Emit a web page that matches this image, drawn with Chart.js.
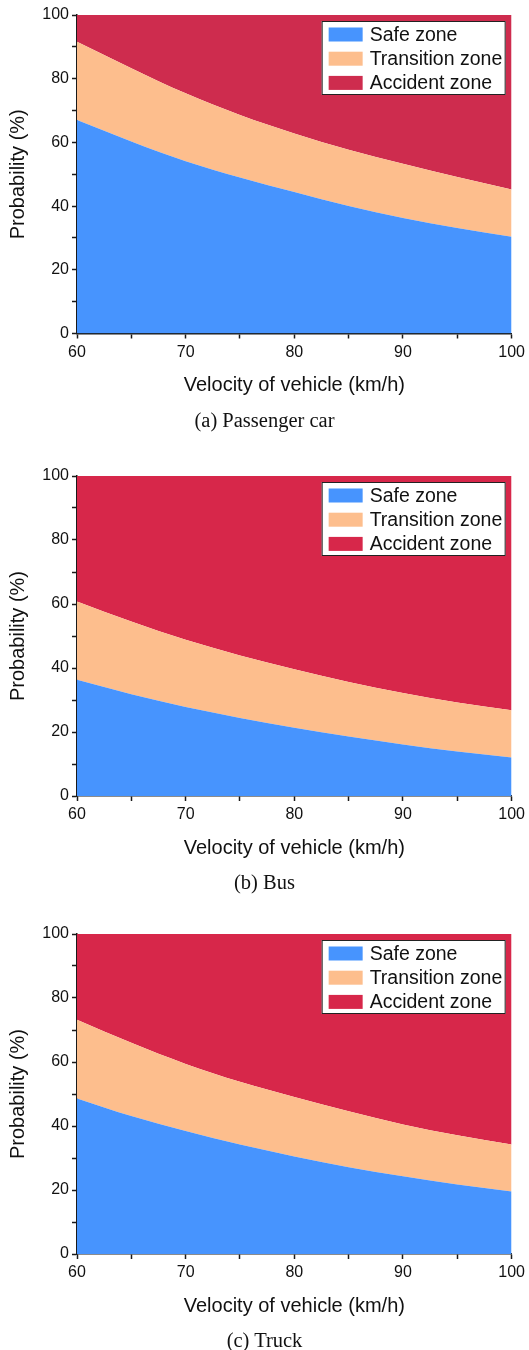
<!DOCTYPE html>
<html>
<head>
<meta charset="utf-8">
<script src="https://cdn.jsdelivr.net/npm/chart.js@4.4.1/dist/chart.umd.min.js"></script>
<style>
  html, body { margin: 0; padding: 0; background: #fff; overflow: hidden; }
  body { width: 529px; height: 1350px; position: relative; }
  canvas { position: absolute; left: 0; }
  .caption {
    position: absolute; left: 0; width: 529px; text-align: center;
    font-family: "Liberation Serif", "Times New Roman", serif; font-size: 20.5px;
    color: #111; line-height: 24px; margin-top: -12px;
  }
</style>
</head>
<body>
<canvas id="car" width="529" height="430"></canvas>
<canvas id="bus" width="529" height="430"></canvas>
<canvas id="truck" width="529" height="430"></canvas>
<div class="caption" id="capCar">(a) Passenger car</div>
<div class="caption" id="capBus">(b) Bus</div>
<div class="caption" id="capTruck">(c) Truck</div>
<script>
// Vehicle speed (km/h)
const speeds = [60, 65, 70, 75, 80, 85, 90, 95, 100];

// Probability of each zone (%), stacked to 100
const carSafe       = [67.0, 60.3, 54.1, 49.0, 44.4, 40.0, 36.3, 33.1, 30.4];
const carTransition = [24.6, 23.0, 21.3, 19.6, 18.4, 17.7, 17.0, 16.0, 14.8];
const carAccident   = [8.4, 16.7, 24.6, 31.4, 37.2, 42.3, 46.7, 50.9, 54.8];

const busSafe       = [36.3, 31.8, 27.8, 24.4, 21.3, 18.6, 16.1, 13.9, 12.0];
const busTransition = [24.5, 22.7, 21.0, 19.5, 18.3, 17.0, 16.1, 15.3, 14.8];
const busAccident   = [39.2, 45.5, 51.2, 56.1, 60.4, 64.4, 67.8, 70.8, 73.2];

const truckSafe       = [48.6, 43.1, 38.4, 34.2, 30.5, 27.1, 24.3, 21.7, 19.5];
const truckTransition = [24.6, 22.9, 21.0, 19.6, 18.6, 17.5, 16.2, 15.4, 14.7];
const truckAccident   = [26.8, 34.0, 40.6, 46.2, 50.9, 55.4, 59.5, 62.9, 65.8];

const zoneNames = ['Safe zone', 'Transition zone', 'Accident zone'];
const yTicks = [0, 20, 40, 60, 80, 100];
const xTicks = [60, 70, 80, 90, 100];

const SANS = '"Liberation Sans", Arial, sans-serif';
const BLUE = '#4794fe';
const PEACH = '#fdbe8d';

const toPoints = vals => vals.map((v, i) => ({ x: speeds[i], y: v }));

// Boxed legend drawn inside the top-right corner of the plot area
const boxedLegend = {
  id: 'boxedLegend',
  afterDraw(chart) {
    const { ctx, chartArea } = chart;
    const w = 184, h = 74;
    const left = chartArea.right - 6 - w;
    const top = chartArea.top + 6;
    ctx.save();
    ctx.fillStyle = '#fff';
    ctx.fillRect(left, top, w, h);
    ctx.strokeStyle = '#222';
    ctx.lineWidth = 1;
    ctx.strokeRect(left + 0.5, top + 0.5, w - 1, h - 1);
    ctx.font = '19.5px ' + SANS;
    ctx.textBaseline = 'middle';
    ctx.textAlign = 'left';
    chart.data.datasets.forEach((ds, i) => {
      const cy = top + 13.5 + i * 24.2;
      ctx.fillStyle = ds.backgroundColor;
      ctx.fillRect(left + 7, cy - 7, 34, 14);
      ctx.fillStyle = '#111';
      ctx.fillText(ds.label, left + 48, cy + 1);
    });
    ctx.restore();
  }
};

function makeChart(id, capId, canvasTop, plotH, safe, transition, accident, red) {
  const canvas = document.getElementById(id);
  canvas.style.top = canvasTop + 'px';
  const cap = document.getElementById(capId);
  cap.style.top = (canvasTop + 15 + plotH + 86) + 'px';

  const series = [safe, transition, accident];
  const colors = [BLUE, PEACH, red];
  const datasets = series.map((vals, i) => ({
    label: zoneNames[i],
    data: toPoints(vals),
    backgroundColor: colors[i],
    borderColor: colors[i],
    borderWidth: 0,
    pointRadius: 0,
    fill: i === 0 ? 'origin' : '-1',
    cubicInterpolationMode: 'monotone'
  }));

  const axisColor = '#1a1a1a';
  new Chart(canvas, {
    type: 'line',
    data: { datasets },
    plugins: [boxedLegend],
    options: {
      responsive: false,
      animation: false,
      devicePixelRatio: 1,
      layout: { padding: { top: 15, right: 15, bottom: 0, left: 0 } },
      plugins: { legend: { display: false }, tooltip: { enabled: false } },
      scales: {
        x: {
          type: 'linear', min: 60, max: 100,
          afterFit: s => { s.height = 430 - 15 - plotH; },
          border: { color: axisColor, width: 1.5 },
          grid: { drawOnChartArea: false, drawTicks: true, tickLength: 5, color: axisColor, tickWidth: 1.5 },
          ticks: {
            stepSize: 5, autoSkip: false, maxRotation: 0, padding: 4,
            color: '#111', font: { family: SANS, size: 16 },
            callback: v => xTicks.includes(v) ? String(v) : ''
          },
          title: {
            display: true, text: 'Velocity of vehicle (km/h)', color: '#111',
            font: { family: SANS, size: 20 }, padding: { top: 0, bottom: 351 - plotH }
          }
        },
        y: {
          stacked: true, min: 0, max: 100,
          afterFit: s => { s.width = 77; },
          border: { color: axisColor, width: 1.5 },
          grid: { drawOnChartArea: false, drawTicks: true, tickLength: 5, color: axisColor, tickWidth: 1.5 },
          ticks: {
            stepSize: 10, autoSkip: false, padding: 3,
            color: '#111', font: { family: SANS, size: 16 },
            callback: v => yTicks.includes(v) ? String(v) : ''
          },
          title: {
            display: true, text: 'Probability (%)', color: '#111',
            font: { family: SANS, size: 20 }, padding: { top: 6.5, bottom: 0 }
          }
        }
      }
    }
  });
}

makeChart('car', 'capCar', 0, 318.5, carSafe, carTransition, carAccident, '#ce2c4e');
makeChart('bus', 'capBus', 461, 320, busSafe, busTransition, busAccident, '#d7274a');
makeChart('truck', 'capTruck', 919, 320, truckSafe, truckTransition, truckAccident, '#d7274a');
</script>
</body>
</html>
